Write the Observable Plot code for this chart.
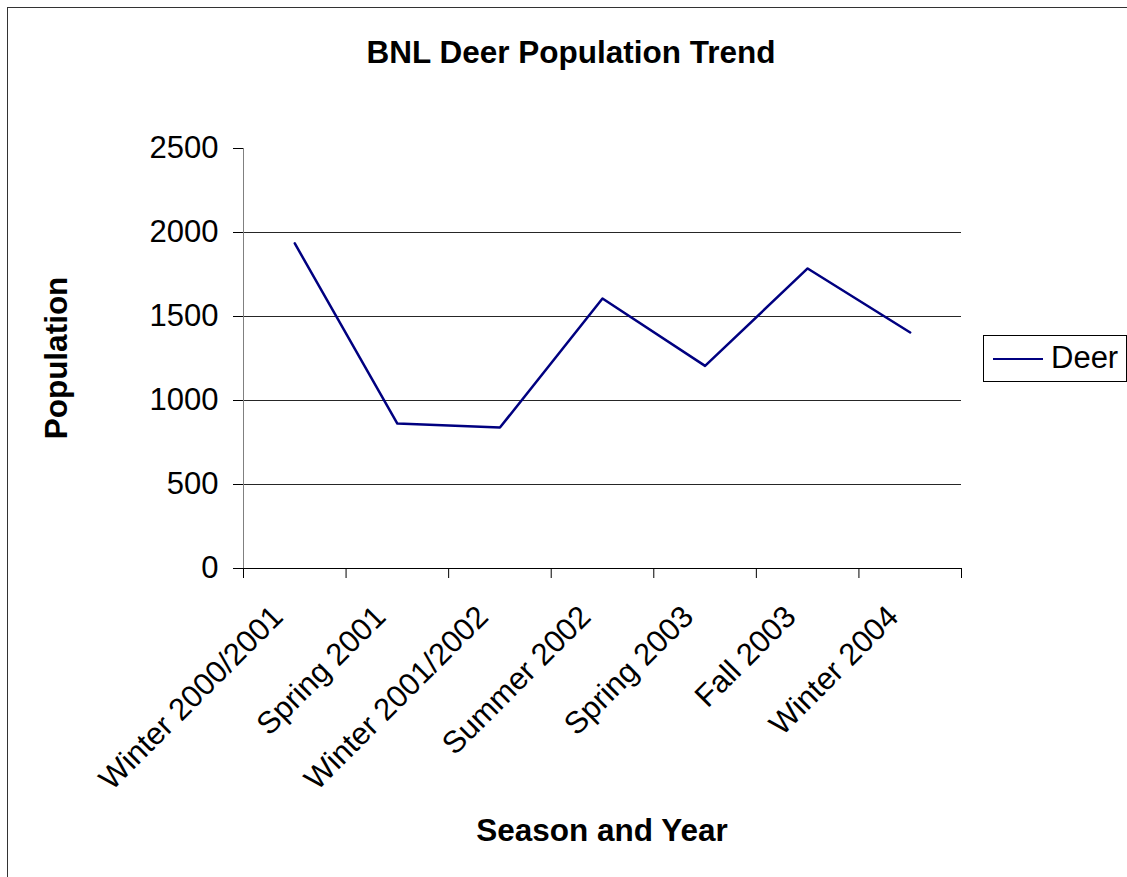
<!DOCTYPE html>
<html>
<head>
<meta charset="utf-8">
<script src="https://cdn.jsdelivr.net/npm/d3@7"></script>
<script src="https://cdn.jsdelivr.net/npm/@observablehq/plot@0.6"></script>
<style>
  html, body { margin: 0; padding: 0; background: #fff; overflow: hidden; }
  #wrap { position: relative; width: 1127px; height: 877px; overflow: hidden; font-family: "Liberation Sans", Arial, sans-serif; color: #000; }
  #frame { position: absolute; left: 7px; top: 7px; width: 1140px; height: 900px; border: 1px solid #333; box-sizing: border-box; }
  #chart { position: absolute; left: 0; top: 0; }
  .title { position: absolute; font-weight: bold; font-size: 31.5px; white-space: nowrap; transform: translate(-50%, -50%); }
  #ytitle { transform: translate(-50%, -50%) rotate(-90deg); }
  #legend { position: absolute; left: 983px; top: 335px; width: 144px; height: 47px; border: 1px solid #000; box-sizing: border-box; background: #fff; }
  #legend .sw { position: absolute; left: 9px; top: 22px; width: 50px; height: 0; border-top: 2.5px solid #000080; }
  #legend .lab { position: absolute; left: 67px; top: 5px; font-size: 31px; line-height: 34px; }
</style>
</head>
<body>
<div id="wrap">
  <div id="frame"></div>
  <div id="chart"></div>
  <div class="title" style="left:571px; top:52px;">BNL Deer Population Trend</div>
  <div class="title" style="left:602px; top:830px;">Season and Year</div>
  <div class="title" id="ytitle" style="left:56px; top:358px;">Population</div>
  <div id="legend"><div class="sw"></div><div class="lab">Deer</div></div>
</div>
<script>
const seasons = ["Winter 2000/2001", "Spring 2001", "Winter 2001/2002", "Summer 2002", "Spring 2003", "Fall 2003", "Winter 2004"];
const deer = [1935, 863, 839, 1607, 1206, 1786, 1405];
const yTicks = [0, 500, 1000, 1500, 2000, 2500];
const gridValues = [500, 1000, 1500, 2000];
const categoryIndex = [0, 1, 2, 3, 4, 5, 6];
const boundaryTicks = [-0.5, 0.5, 1.5, 2.5, 3.5, 4.5, 5.5, 6.5];

const data = seasons.map((s, i) => ({i, season: s, value: deer[i]}));

const chart = Plot.plot({
  width: 1127,
  height: 877,
  marginLeft: 243,
  marginRight: 166,
  marginTop: 148,
  marginBottom: 309,
  style: {fontFamily: "'Liberation Sans', Arial, sans-serif", fontSize: "31px", color: "#000", background: "transparent", overflow: "visible"},
  x: {type: "linear", domain: [-0.5, 6.5]},
  y: {domain: [0, 2500]},
  marks: [
    Plot.gridY(gridValues, {stroke: "#000", strokeOpacity: 0.85, strokeWidth: 1}),
    Plot.ruleX([-0.5], {stroke: "#808080", strokeWidth: 1}),
    Plot.ruleY([0], {stroke: "#000", strokeWidth: 1}),
    Plot.axisY({ticks: yTicks, tickSize: 10, tickPadding: 15, tickFormat: d => String(d), fontSize: 31, label: null, stroke: "#000", color: "#000"}),
    Plot.axisX({ticks: boundaryTicks, tickSize: 10, tickFormat: () => "", label: null, stroke: "#000"}),
    Plot.axisX({ticks: categoryIndex, tickSize: 0, tickPadding: 43, dx: -17, tickRotate: -45, tickFormat: i => seasons[i], fontSize: 31, label: null, color: "#000"}),
    Plot.line(data, {x: "i", y: "value", stroke: "#000080", strokeWidth: 2.5})
  ]
});
document.getElementById("chart").appendChild(chart);
</script>
</body>
</html>
